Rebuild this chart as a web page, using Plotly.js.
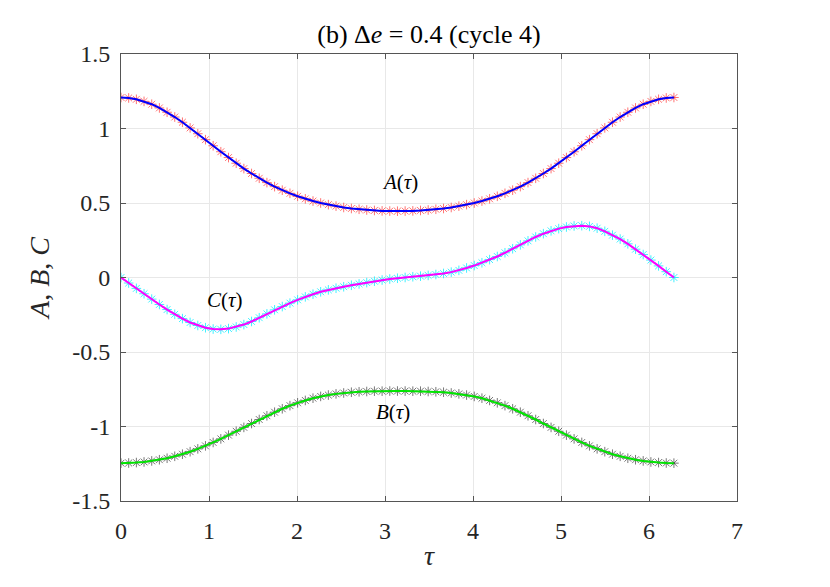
<!DOCTYPE html>
<html>
<head>
<meta charset="utf-8">
<script src="https://cdn.plot.ly/plotly-3.0.1.min.js"></script>
</head>
<body style="margin:0;background:#fff">
<div id="chart" style="width:830px;height:587px"></div>
<script>
// tau grid (0 .. 2*pi)
const tau = [0,0.0873,0.1745,0.2618,0.3491,0.4363,0.5236,0.6109,0.6981,0.7854,0.8727,0.9599,1.0472,1.1345,1.2217,1.3090,1.3963,1.4835,1.5708,1.6581,1.7453,1.8326,1.9199,2.0071,2.0944,2.1817,2.2689,2.3562,2.4435,2.5307,2.6180,2.7053,2.7925,2.8798,2.9671,3.0543,3.1416,3.2289,3.3161,3.4034,3.4907,3.5779,3.6652,3.7525,3.8397,3.9270,4.0143,4.1015,4.1888,4.2761,4.3633,4.4506,4.5379,4.6251,4.7124,4.7997,4.8869,4.9742,5.0615,5.1487,5.2360,5.3233,5.4105,5.4978,5.5851,5.6723,5.7596,5.8469,5.9341,6.0214,6.1087,6.1959,6.2832];

const A = [1.208,1.205,1.196,1.182,1.163,1.138,1.109,1.077,1.042,1.004,0.965,0.925,0.884,0.844,0.805,0.767,0.731,0.698,0.666,0.637,0.610,0.586,0.565,0.545,0.528,0.513,0.500,0.489,0.479,0.470,0.463,0.458,0.453,0.450,0.447,0.446,0.445,
           0.446,0.447,0.450,0.453,0.458,0.463,0.470,0.479,0.489,0.500,0.513,0.528,0.545,0.565,0.586,0.610,0.637,0.666,0.698,0.731,0.767,0.805,0.844,0.884,0.925,0.965,1.004,1.042,1.077,1.109,1.138,1.163,1.182,1.196,1.205,1.208];

const B = [-1.246,-1.245,-1.242,-1.238,-1.231,-1.223,-1.213,-1.200,-1.186,-1.169,-1.150,-1.130,-1.107,-1.083,-1.058,-1.032,-1.006,-0.980,-0.953,-0.928,-0.904,-0.881,-0.860,-0.841,-0.825,-0.810,-0.798,-0.789,-0.781,-0.775,-0.770,-0.767,-0.765,-0.763,-0.763,-0.762,-0.762,
           -0.762,-0.763,-0.763,-0.765,-0.767,-0.770,-0.775,-0.781,-0.789,-0.798,-0.810,-0.825,-0.841,-0.860,-0.881,-0.904,-0.928,-0.953,-0.980,-1.006,-1.032,-1.058,-1.083,-1.107,-1.130,-1.150,-1.169,-1.186,-1.200,-1.213,-1.223,-1.231,-1.238,-1.242,-1.245,-1.246];

const C = [0,-0.037,-0.073,-0.109,-0.145,-0.181,-0.215,-0.247,-0.276,-0.302,-0.322,-0.337,-0.346,-0.348,-0.343,-0.332,-0.316,-0.295,-0.270,-0.244,-0.217,-0.195,-0.172,-0.150,-0.130,-0.112,-0.096,-0.083,-0.072,-0.062,-0.052,-0.043,-0.034,-0.025,-0.017,-0.010,-0.005,
           0.000,0.005,0.009,0.014,0.020,0.027,0.036,0.048,0.064,0.080,0.099,0.120,0.141,0.166,0.193,0.219,0.246,0.272,0.294,0.313,0.328,0.339,0.346,0.348,0.343,0.331,0.310,0.284,0.258,0.226,0.190,0.154,0.117,0.078,0.039,0.000];

const xTicks = [0,1,2,3,4,5,6,7];
const xTickText = ['0','1','2','3','4','5','6','7'];
const yTicks = [-1.5,-1,-0.5,0,0.5,1,1.5];
const yTickText = ['-1.5','-1','-0.5','0','0.5','1','1.5'];

function markerTrace(y, col) {
  return {x: tau, y: y, type: 'scatter', mode: 'markers', hoverinfo: 'skip',
    marker: {symbol: 'asterisk-open', size: 8, color: col, line: {color: col, width: 1}}};
}
function lineTrace(y, col) {
  return {x: tau, y: y, type: 'scatter', mode: 'lines', hoverinfo: 'skip',
    line: {color: col, width: 2}};
}

const data = [
  markerTrace(A, 'rgba(255,40,40,0.65)'), lineTrace(A, '#0000ff'),
  markerTrace(B, 'rgba(30,30,30,0.6)'), lineTrace(B, '#00e600'),
  markerTrace(C, 'rgba(0,235,255,0.75)'), lineTrace(C, '#ff00ff')
];

const layout = {
  width: 830, height: 587,
  margin: {l: 121, r: 93, t: 54, b: 86},
  paper_bgcolor: '#ffffff', plot_bgcolor: '#ffffff',
  showlegend: false,
  font: {family: 'Liberation Serif', color: '#262626'},
  title: {text: '(b) Δ<i>e</i> = 0.4 (cycle 4)', x: 0.5168, xanchor: 'center', y: 0.943, yanchor: 'middle',
          font: {family: 'Liberation Serif', size: 26, color: '#000'}},
  xaxis: {
    range: [0, 7], tickvals: xTicks, ticktext: xTickText, ticklabelstandoff: 8,
    showline: true, linecolor: '#555555', linewidth: 1, mirror: 'ticks',
    ticks: 'inside', ticklen: 5, tickcolor: '#555555', tickwidth: 1,
    showgrid: true, gridcolor: '#e8e8e8', gridwidth: 1, zeroline: false,
    tickfont: {family: 'Liberation Serif', size: 24, color: '#262626'},
    title: {text: '<i>τ</i>', font: {family: 'Liberation Serif', size: 28, color: '#262626'}, standoff: 2}
  },
  yaxis: {
    range: [-1.5, 1.5], tickvals: yTicks, ticktext: yTickText, ticklabelstandoff: 5,
    showline: true, linecolor: '#555555', linewidth: 1, mirror: 'ticks',
    ticks: 'inside', ticklen: 5, tickcolor: '#555555', tickwidth: 1,
    showgrid: true, gridcolor: '#e8e8e8', gridwidth: 1, zeroline: false,
    tickfont: {family: 'Liberation Serif', size: 24, color: '#262626'},
    title: {text: '<i>A</i>, <i>B</i>, <i>C</i>', font: {family: 'Liberation Serif', size: 28, color: '#262626'}, standoff: 14}
  },
  annotations: [
    {x: 3.17, y: 0.64, xref: 'x', yref: 'y', text: '<i>A</i>(<i>τ</i>)', showarrow: false,
     font: {family: 'Liberation Serif', size: 21, color: '#000'}},
    {x: 1.18, y: -0.15, xref: 'x', yref: 'y', text: '<i>C</i>(<i>τ</i>)', showarrow: false,
     font: {family: 'Liberation Serif', size: 21, color: '#000'}},
    {x: 3.09, y: -0.9, xref: 'x', yref: 'y', text: '<i>B</i>(<i>τ</i>)', showarrow: false,
     font: {family: 'Liberation Serif', size: 21, color: '#000'}}
  ]
};

let drawn = false;
function draw() {
  if (drawn) return;
  drawn = true;
  Plotly.newPlot('chart', data, layout, {displayModeBar: false});
}
if (document.fonts && document.fonts.load) {
  document.fonts.load('24px "Liberation Serif"').then(draw, draw);
  setTimeout(draw, 400);
} else {
  draw();
}
</script>
</body>
</html>
